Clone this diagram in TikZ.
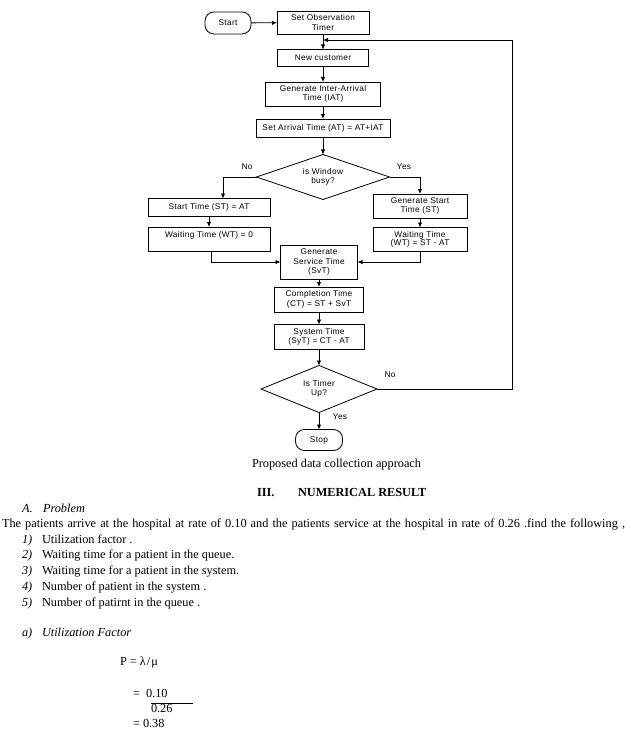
\documentclass[tikz,border=0pt]{standalone}
\usepackage{fontspec}
\setmainfont{Liberation Serif}
\newfontfamily\flowfont[LetterSpace=4]{Liberation Sans}
\usetikzlibrary{shapes.geometric, arrows.meta}
\begin{document}
\begin{tikzpicture}[x=1pt,y=-1pt,
  every node/.style={inner sep=0pt, outer sep=0pt},
  fbox/.style={draw, line width=0.8pt, align=center, font=\flowfont\fontsize{8.3}{9.5}\selectfont},
  term/.style={fbox, rounded corners=9pt},
  dec/.style={fbox, diamond, aspect=3},
  arr/.style={-{Latex[length=5pt,width=4.5pt]}, line width=0.8pt},
  ln/.style={line width=0.8pt},
  lab/.style={font=\flowfont\fontsize{8.3}{9.5}\selectfont},
  body/.style={anchor=base west, font=\fontsize{12.3}{14}\selectfont},
  bodyit/.style={body, font=\fontsize{12.3}{14}\selectfont\itshape},
  bodybf/.style={body, font=\fontsize{12.3}{14}\selectfont\bfseries},
]
\useasboundingbox[fill=white] (0,0) rectangle (629,741);
% flowchart nodes
\node[term, minimum width=46pt, minimum height=22pt] (start) at (228,23) {Start};
\node[fbox, minimum width=92pt, minimum height=23pt] (obs) at (323,22.5) {Set Observation\\Timer};
\node[fbox, minimum width=91pt, minimum height=17pt] (newc) at (323,58) {New customer};
\node[fbox, minimum width=115pt, minimum height=24pt] (iat) at (323,94) {Generate Inter-Arrival\\Time (IAT)};
\node[fbox, minimum width=134pt, minimum height=18pt] (sat) at (323,128) {Set Arrival Time (AT) = AT+IAT};
\node[dec, minimum width=133pt, minimum height=45pt] (d1) at (323,177) {is Window\\busy?};
\node[fbox, minimum width=122pt, minimum height=18pt] (st) at (209,207.5) {Start Time (ST) = AT};
\node[fbox, minimum width=122pt, minimum height=24pt, text depth=10pt, anchor=north] (wt0) at (209,227) {Waiting Time (WT) = 0};
\node[fbox, minimum width=94pt, minimum height=24pt] (gst) at (420,206) {Generate Start\\Time (ST)};
\node[fbox, minimum width=94pt, minimum height=24pt, font=\flowfont\fontsize{8.3}{8.3}\selectfont] (wst) at (420,239.5) {Waiting Time\\(WT) = ST - AT};
\node[fbox, minimum width=77pt, minimum height=34pt] (svc) at (319,262) {Generate\\Service Time\\(SvT)};
\node[fbox, minimum width=89pt, minimum height=25pt] (comp) at (319,299.5) {Completion Time\\(CT) = ST + SvT};
\node[fbox, minimum width=90pt, minimum height=25pt] (sys) at (319,337) {System Time\\(SyT) = CT - AT};
\node[dec, minimum width=116pt, minimum height=47pt] (d2) at (319,389) {Is Timer\\Up?};
\node[term, minimum width=47pt, minimum height=21pt] (stop) at (319,440) {Stop};
% labels
\node[lab] (no1) at (247,167) {No};
\node[lab] (yes1) at (404,167) {Yes};
\node[lab] (no2) at (390,375) {No};
\node[lab] (yes2) at (340,417) {Yes};
% connectors
\coordinate (j) at (323,40);
\coordinate (rc) at (512,40);
\draw[arr] (start) -- (obs);
\draw[arr] (obs) -- (newc);
\draw[arr] (newc) -- (iat);
\draw[arr] (iat) -- (sat);
\draw[arr] (sat) -- (d1);
\draw[arr] (d1.west) -| ([xshift=14pt]st.north);
\draw[arr] (d1.east) -| (gst.north);
\draw[arr] (st) -- (wt0);
\draw[arr] (gst) -- (wst);
\draw[arr] ([xshift=2pt]wt0.south) |- (svc.west);
\draw[arr] (wst.south) |- (svc.east);
\draw[arr] (svc) -- (comp);
\draw[arr] (comp) -- (sys);
\draw[arr] (sys) -- (d2);
\draw[arr] (d2) -- (stop);
\draw[ln] (d2.east) -| (rc);
\draw[arr] (rc) -- (j);
% body text
\node[body] (cap) at (252,467) {Proposed data collection approach};
\node[bodybf] (h3a) at (257,496) {III.};
\node[bodybf] (h3b) at (298,496) {NUMERICAL RESULT};
\node[bodyit] (pa) at (22,512) {A.};
\node[bodyit] (pb) at (43,512) {Problem};
\node[body] (para) at (2,527) {\makebox[623pt][s]{The patients arrive at the hospital at rate of 0.10 and the patients service at the hospital in rate of 0.26 .find the following ,}};
\node[bodyit] (n1) at (22,543) {1)};
\node[body] (t1) at (42,543) {Utilization factor .};
\node[bodyit] (n2) at (22,558.5) {2)};
\node[body] (t2) at (42,558.5) {Waiting time for a patient in the queue.};
\node[bodyit] (n3) at (22,574) {3)};
\node[body] (t3) at (42,574) {Waiting time for a patient in the system.};
\node[bodyit] (n4) at (22,590) {4)};
\node[body] (t4) at (42,590) {Number of patient in the system .};
\node[bodyit] (n5) at (22,606) {5)};
\node[body] (t5) at (42,606) {Number of patirnt in the queue .};
\node[bodyit] (na) at (22,636) {a)};
\node[bodyit] (ta) at (42,636) {Utilization Factor};
\node[body] (eq1) at (120,665) {P = λ\kern1pt/\kern1ptμ};
\node[body] (eq2) at (133,697) {=\ \ 0.10};
\node[body] (eq3) at (151,712) {0.26};
\coordinate (fl) at (151,703.5);
\coordinate (fr) at (193,703.5);
\draw[line width=0.6pt] (fl) -- (fr);
\node[body] (eq4) at (133,727) {= 0.38};
\end{tikzpicture}
\end{document}
